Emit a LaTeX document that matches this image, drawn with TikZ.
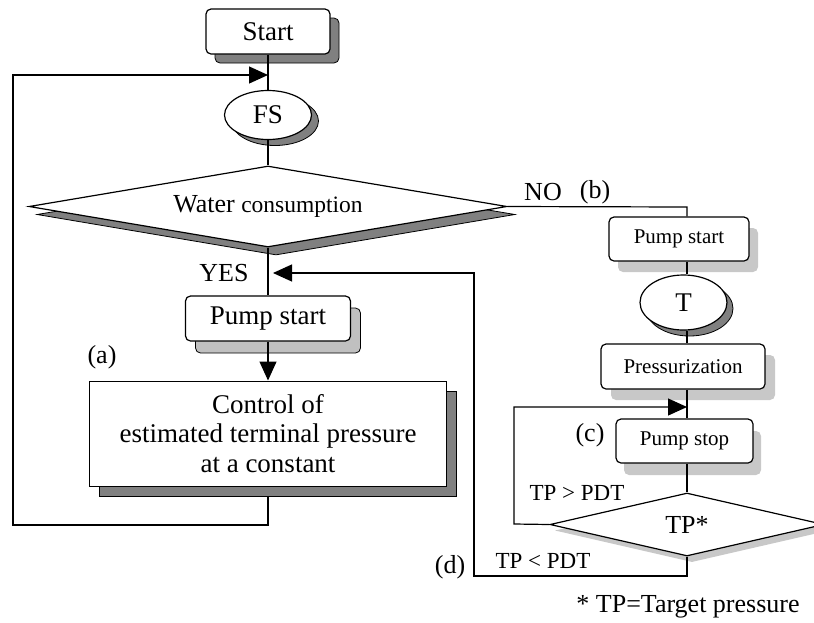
\documentclass[tikz,border=0pt]{standalone}
\usepackage{fontspec}
\setmainfont{Liberation Serif}
\usetikzlibrary{shapes.geometric,arrows.meta}
\pgfdeclarelayer{shl}
\pgfdeclarelayer{lnl}
\pgfsetlayers{shl,lnl,main}
\definecolor{shdark}{RGB}{128,128,128}
\definecolor{shlight}{RGB}{192,192,192}
\definecolor{shpale}{RGB}{200,200,200}
\tikzset{
  rbox/.style={draw, line width=1.2pt, rounded corners=5pt, fill=white, inner sep=0pt},
  sbox/.style={draw, line width=1pt, fill=white, inner sep=0pt},
  ell/.style={draw, line width=1.2pt, ellipse, fill=white, inner sep=0pt},
  dia/.style={draw, line width=1.2pt, diamond, fill=white, inner sep=0pt},
  dshadow/.style={fill=shdark, draw=black, line width=0.8pt, inner sep=0pt},
  lshadow/.style={fill=shlight, draw=black, line width=0.8pt, inner sep=0pt},
  pshadow/.style={fill=shpale, draw=none, inner sep=0pt},
  conn/.style={line width=1.2pt},
  arr/.style={line width=1.2pt, -{Triangle[length=19pt,width=17pt]}},
  lbl/.style={inner sep=0pt, font=\fontsize{26}{28}\selectfont},
  big/.style={font=\fontsize{27}{29.5}\selectfont},
  small/.style={font=\fontsize{21}{23}\selectfont},
  tpl/.style={inner sep=0pt, font=\fontsize{23}{25}\selectfont}
}
\begin{document}
\begin{tikzpicture}[x=1pt,y=-1pt]
\useasboundingbox (0,0) rectangle (814,622);

% ---- main nodes ----
\node[rbox, big, minimum width=124pt, minimum height=45pt] (start) at (268,31.5) {Start};
\node[ell, big, minimum width=87pt, minimum height=49pt] (fs) at (268,115) {FS};
\node[dia, shape aspect=5.9, minimum width=478pt, minimum height=81pt,
      font=\fontsize{26}{28}\selectfont] (wc) at (268,206.5) {Water {\fontsize{23.5}{26}\selectfont consumption}};
\node[rbox, big, minimum width=165pt, minimum height=45pt] (pa) at (268,318.5) {Pump start};
\node[sbox, big, align=center, minimum width=357pt, minimum height=105pt] (ctrl) at (268,433.5)
      {Control of\\estimated terminal pressure\\at a constant};

\node[rbox, small, minimum width=140pt, minimum height=44pt] (pb) at (679,239) {Pump start};
\node[ell, font=\fontsize{27}{29}\selectfont, minimum width=87pt, minimum height=55pt] (T) at (683.5,302.5) {T};
\node[rbox, small, minimum width=164pt, minimum height=45pt] (pr) at (683,366.5) {Pressurization};
\node[rbox, small, minimum width=137pt, minimum height=44pt] (ps) at (684.5,441) {Pump stop};
\node[dia, shape aspect=4.3, minimum width=274pt, minimum height=63pt,
      font=\fontsize{26}{28}\selectfont] (tp) at (687,524.5) {TP*};

% ---- shadows ----
\begin{pgfonlayer}{shl}
\node[dshadow, rounded corners=5pt, minimum width=124pt, minimum height=45pt] (startsh) at (277,40.5) {};
\node[dshadow, ellipse, minimum width=87pt, minimum height=49pt] (fssh) at (275,121) {};
\node[dshadow, diamond, minimum width=478pt, minimum height=81pt] (wcsh) at (276,214.5) {};
\node[lshadow, rounded corners=5pt, minimum width=165pt, minimum height=45pt] (pash) at (278,330.5) {};
\node[dshadow, minimum width=357pt, minimum height=105pt] (ctrlsh) at (278,443.5) {};
\node[pshadow, rounded corners=5pt, minimum width=140pt, minimum height=44pt] (pbsh) at (688,250) {};
\node[dshadow, ellipse, minimum width=87pt, minimum height=55pt] (Tsh) at (689.5,308.5) {};
\node[pshadow, rounded corners=5pt, minimum width=164pt, minimum height=45pt] (prsh) at (693,377.5) {};
\node[pshadow, rounded corners=5pt, minimum width=137pt, minimum height=44pt] (pssh) at (692.5,453) {};
\node[pshadow, diamond, minimum width=274pt, minimum height=63pt] (tpsh) at (692,530.5) {};
\end{pgfonlayer}

% ---- coordinates ----
\coordinate (colR) at (687,0);
\coordinate (nocorner) at (687,207);
\coordinate (m1) at (268,525);
\coordinate (m2) at (13,525);
\coordinate (m3) at (13,75);
\coordinate (m4) at (268,75);
\coordinate (c1) at (514,524);
\coordinate (c2) at (514,407);
\coordinate (c3) at (687,407);
\coordinate (d1) at (687,576);
\coordinate (d2) at (474,576);
\coordinate (d3) at (474,273);
\coordinate (yesin) at (273,273);

% ---- connectors ----
\begin{pgfonlayer}{lnl}
\draw[conn] (start.south) -- (fs.north);
\draw[conn] (fs.south) -- (wc.north);
\draw[conn] (wc.south) -- (pa.north);
\draw[arr] (pa.south) -- (ctrl.north);
\draw[arr] (ctrlsh.south -| ctrl.south) -- (m1) -- (m2) -- (m3) -- (m4);
\draw[conn] (wc.east) -- (nocorner) -- (pb.north -| colR);
\draw[conn] (pb.south -| colR) -- (T.north -| colR);
\draw[conn] (T.south -| colR) -- (pr.north -| colR);
\draw[conn] (pr.south -| colR) -- (ps.north -| colR);
\draw[arr] (tp.west) -- (c1) -- (c2) -- (c3);
\draw[conn] (ps.south -| colR) -- (tp.north);
\draw[arr] (tp.south) -- (d1) -- (d2) -- (d3) -- (yesin);
\end{pgfonlayer}

% ---- labels ----
\node[lbl] (yes) at (224,273) {YES};
\node[lbl] (no) at (543,192) {NO};
\node[lbl] (lb) at (595,192) {(b)};
\node[lbl] (la) at (102,357) {(a)};
\node[lbl] (lc) at (590,435) {(c)};
\node[lbl] (ld) at (450,567) {(d)};
\node[tpl] (gt) at (577,493) {TP > PDT};
\node[tpl] (lt) at (543,561) {TP < PDT};
\node[lbl] (foot) at (688,607) {* TP=Target pressure};
\end{tikzpicture}
\end{document}
